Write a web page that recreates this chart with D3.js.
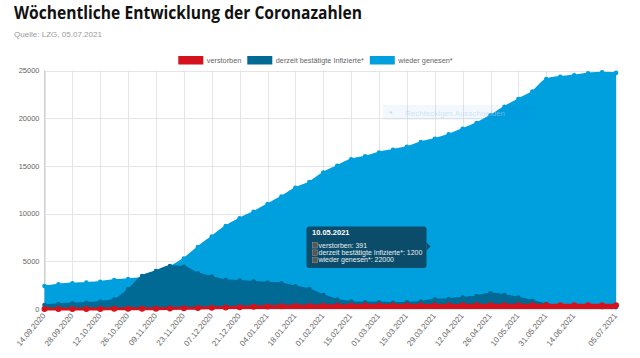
<!DOCTYPE html>
<html><head><meta charset="utf-8">
<script src="https://cdn.jsdelivr.net/npm/d3@7"></script>
<style>
body{margin:0;background:#fff;}
svg{display:block;font-family:"Liberation Sans",Arial,Helvetica,sans-serif;}
</style>
</head><body><svg id="c" width="640" height="358"></svg>
<script>
const dates = ["14.09.2020","21.09.2020","28.09.2020","05.10.2020","12.10.2020","19.10.2020","26.10.2020","02.11.2020","09.11.2020","16.11.2020","23.11.2020","30.11.2020","07.12.2020","14.12.2020","21.12.2020","28.12.2020","04.01.2021","11.01.2021","18.01.2021","25.01.2021","01.02.2021","08.02.2021","15.02.2021","22.02.2021","01.03.2021","08.03.2021","15.03.2021","22.03.2021","29.03.2021","05.04.2021","12.04.2021","19.04.2021","26.04.2021","03.05.2021","10.05.2021","17.05.2021","31.05.2021","07.06.2021","14.06.2021","21.06.2021","28.06.2021","05.07.2021"];
const shownLabels = ["14.09.2020","28.09.2020","12.10.2020","26.10.2020","09.11.2020","23.11.2020","07.12.2020","21.12.2020","04.01.2021","18.01.2021","01.02.2021","15.02.2021","01.03.2021","15.03.2021","29.03.2021","12.04.2021","26.04.2021","10.05.2021","31.05.2021","14.06.2021","05.07.2021"];
const verstorben = [10,10,11,12,13,15,18,25,35,50,70,95,125,160,195,230,260,285,305,320,335,345,352,358,363,367,370,373,376,379,382,385,387,389,391,393,395,396,397,398,399,400];
const infizierte = [420,520,590,660,770,1000,2060,3460,3980,4500,4430,3740,3390,3040,2970,2870,2780,2700,2380,2080,1470,1000,770,700,700,660,700,770,1000,1050,1200,1350,1650,1470,1200,870,520,350,300,250,200,200];
const genesen = [2400,2580,2690,2760,2860,3040,3140,3300,3700,4400,5300,6500,7600,8700,9500,10200,11000,11800,12700,13300,14300,15000,15700,16000,16400,16700,17000,17500,17850,18300,18900,19500,20300,21200,22000,22800,24100,24350,24500,24700,24800,24750];
const yTicks = [0,5000,10000,15000,20000,25000];
const seriesNames = ["verstorben","derzeit bestätigte Infizierte*","wieder genesen*"];
const seriesColors = ["#d3121b","#006a95","#00a0df"];
const title = "Wöchentliche Entwicklung der Coronazahlen";
const subtitle = "Quelle: LZG, 05.07.2021";
const tooltipDate = "10.05.2021";

const svg = d3.select("#c");
const x = d3.scalePoint().domain(dates).range([44.5, 616]);
const y = d3.scaleLinear().domain([0, 25000]).range([309, 70.5]);

// Title
svg.append("text").attr("x", 14).attr("y", 18.5)
  .attr("font-family", "'Open Sans','Noto Sans',sans-serif").attr("font-weight", 700)
  .attr("font-size", 17).attr("fill", "#111")
  .attr("textLength", 348).attr("lengthAdjust", "spacingAndGlyphs").text(title);
svg.append("text").attr("x", 14).attr("y", 37).attr("font-size", 8).attr("fill", "#9a9a9a")
  .attr("textLength", 88).attr("lengthAdjust", "spacingAndGlyphs").text(subtitle);

// Grid
const grid = svg.append("g").attr("stroke", "#e5e5e5").attr("stroke-width", 1);
yTicks.forEach(t => grid.append("line").attr("x1", 44.5).attr("x2", 616)
  .attr("y1", Math.round(y(t)) + 0.5).attr("y2", Math.round(y(t)) + 0.5));
shownLabels.forEach(d => grid.append("line").attr("x1", Math.round(x(d)) + 0.5).attr("x2", Math.round(x(d)) + 0.5)
  .attr("y1", y(25000)).attr("y2", y(0)));
svg.append("line").attr("x1", 44.5).attr("x2", 44.5).attr("y1", y(25000)).attr("y2", y(0))
  .attr("stroke", "#d0d0d0");

// Y labels
svg.append("g").selectAll("text").data(yTicks).join("text")
  .attr("x", 39.5).attr("y", d => y(d)).attr("dy", "0.35em")
  .attr("text-anchor", "end").attr("font-size", 7.5).attr("fill", "#666").text(d => d);

// X labels
svg.append("g").selectAll("text").data(shownLabels).join("text")
  .attr("transform", d => `translate(${x(d) + 1.5},${316}) rotate(-50)`)
  .attr("text-anchor", "end").attr("font-size", 8).attr("fill", "#666").text(d => d);

// Series (drawn in reverse order: first dataset on top)
const seriesData = [verstorben, infizierte, genesen];
const curve = d3.curveMonotoneX;
for (let s = 2; s >= 0; s--) {
  const vals = seriesData[s];
  const pts = dates.map((d, i) => [x(d), y(vals[i])]);
  const area = d3.area().x(p => p[0]).y0(y(0)).y1(p => p[1]).curve(curve);
  const line = d3.line().x(p => p[0]).y(p => p[1]).curve(curve);
  svg.append("path").attr("d", area(pts)).attr("fill", seriesColors[s]);
  svg.append("path").attr("d", line(pts)).attr("fill", "none").attr("stroke", seriesColors[s])
    .attr("stroke-width", s === 0 ? 3 : 1.5);
  svg.append("g").selectAll("circle").data(pts).join("circle")
    .attr("cx", p => p[0]).attr("cy", p => p[1]).attr("r", s === 0 ? 3 : 2.3)
    .attr("fill", seriesColors[s]);
}

// Legend
const leg = svg.append("g");
let lx = 178.3;
seriesNames.forEach((n, i) => {
  leg.append("rect").attr("x", lx).attr("y", 56).attr("width", 25).attr("height", 8.5)
    .attr("fill", seriesColors[i]);
  const t = leg.append("text").attr("x", lx + 28.5).attr("y", 63.3).attr("font-size", 7.3)
    .attr("fill", "#666").text(n);
  const w = t.node().getComputedTextLength();
  lx += 28.5 + w + 6;
});

// Snipping tool overlay (screenshot artifact)
const ov = svg.append("g");
ov.append("rect").attr("x", 383).attr("y", 105).attr("width", 153).attr("height", 15)
  .attr("fill", "rgba(0,120,215,0.05)");
ov.append("circle").attr("cx", 391).attr("cy", 112.5).attr("r", 1.3).attr("fill", "rgba(0,120,215,0.18)");
ov.append("text").attr("x", 405).attr("y", 115.5).attr("font-size", 8)
  .attr("fill", "rgba(180,210,235,0.55)").text("Rechteckiges Ausschneiden");

// Tooltip
const ti = dates.indexOf(tooltipDate);
const tt = svg.append("g");
const tx = 306.5, ty = 226.5, tw = 120, th = 41.5;
tt.append("rect").attr("x", tx).attr("y", ty).attr("width", tw).attr("height", th).attr("rx", 3)
  .attr("fill", "#0b4c6a");
tt.append("path").attr("d", `M${tx + tw},${ty + 16} L${tx + tw + 4},${ty + 20} L${tx + tw},${ty + 24}Z`)
  .attr("fill", "#0b4c6a");
tt.append("text").attr("x", tx + 5.5).attr("y", ty + 8).attr("font-size", 7.5).attr("font-weight", 700)
  .attr("fill", "#fff").text(tooltipDate);
seriesNames.forEach((n, i) => {
  const by = ty + 16 + i * 7.4;
  tt.append("rect").attr("x", tx + 6).attr("y", by).attr("width", 5).attr("height", 5.5)
    .attr("fill", "#5b5550").attr("stroke", "#9a9a9a").attr("stroke-width", 0.5);
  tt.append("text").attr("x", tx + 12).attr("y", by + 5).attr("font-size", 7)
    .attr("fill", "#e8eef2").text(`${n}: ${seriesData[i][ti]}`);
});
</script>
</body></html>
